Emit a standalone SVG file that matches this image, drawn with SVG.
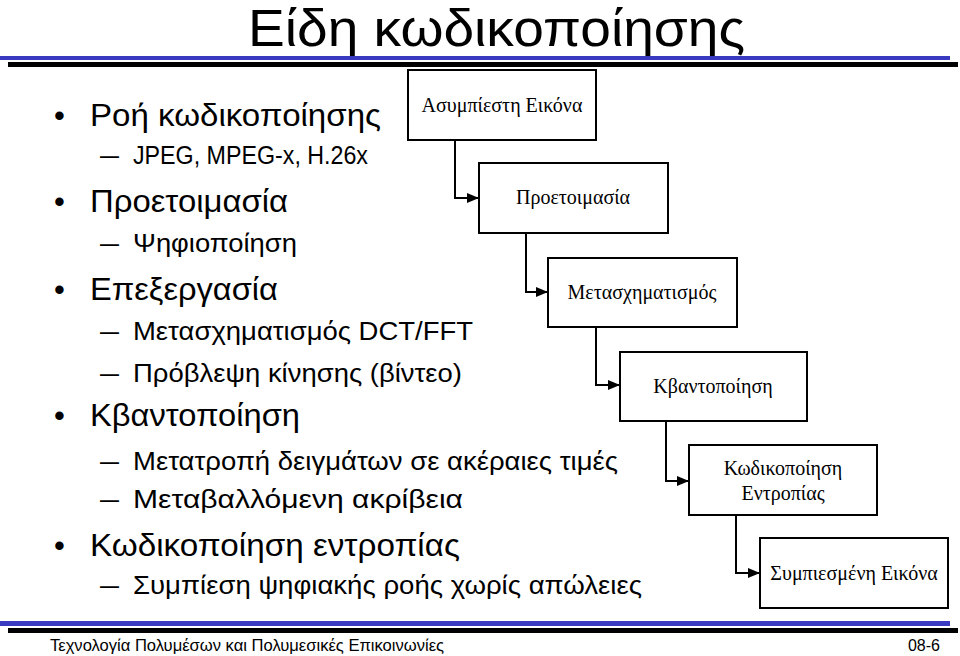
<svg xmlns="http://www.w3.org/2000/svg" width="960" height="656" viewBox="0 0 960 656">
<defs>
<style>
.sans{font-family:"Liberation Sans",Arial,sans-serif;fill:#000}
.l1{font-size:31px}
.l2{font-size:25px}
.box{fill:#fff;stroke:#000;stroke-width:2}
.bt{font-family:"Liberation Serif","Times New Roman",serif;font-size:20px;fill:#000;text-anchor:middle}
.conn{fill:none;stroke:#000;stroke-width:2}
</style>
<marker id="arr" viewBox="0 0 12 10" refX="12" refY="5" markerWidth="12" markerHeight="10" markerUnits="userSpaceOnUse" orient="auto">
<path d="M0,0 L12,5 L0,10 Z" fill="#000"/>
</marker>
</defs>
<rect width="960" height="656" fill="#fff"/>
<g id="header">
<text class="sans" x="248" y="46" font-size="52" textLength="497" lengthAdjust="spacingAndGlyphs">Είδη κωδικοποίησης</text>
<rect x="0" y="56" width="950" height="4" fill="#3a3ac0"/>
<rect x="8" y="62" width="950" height="5" fill="#000"/>
</g>
<g id="bullets" class="sans">
<text class="l1" x="54" y="126">•</text><text class="l1" x="90" y="126" textLength="291" lengthAdjust="spacingAndGlyphs">Ροή κωδικοποίησης</text>
<text class="l2" x="100" y="164" textLength="19" lengthAdjust="spacingAndGlyphs">–</text><text class="l2" x="133" y="164" textLength="235" lengthAdjust="spacingAndGlyphs">JPEG, MPEG-x, H.26x</text>
<text class="l1" x="54" y="212">•</text><text class="l1" x="90" y="212" textLength="198" lengthAdjust="spacingAndGlyphs">Προετοιμασία</text>
<text class="l2" x="100" y="252" textLength="19" lengthAdjust="spacingAndGlyphs">–</text><text class="l2" x="133" y="252" textLength="164" lengthAdjust="spacingAndGlyphs">Ψηφιοποίηση</text>
<text class="l1" x="54" y="300">•</text><text class="l1" x="90" y="300" textLength="188" lengthAdjust="spacingAndGlyphs">Επεξεργασία</text>
<text class="l2" x="100" y="340" textLength="19" lengthAdjust="spacingAndGlyphs">–</text><text class="l2" x="133" y="340" textLength="340" lengthAdjust="spacingAndGlyphs">Μετασχηματισμός DCT/FFT</text>
<text class="l2" x="100" y="382" textLength="19" lengthAdjust="spacingAndGlyphs">–</text><text class="l2" x="133" y="382" textLength="329" lengthAdjust="spacingAndGlyphs">Πρόβλεψη κίνησης (βίντεο)</text>
<text class="l1" x="54" y="426">•</text><text class="l1" x="90" y="426" textLength="210" lengthAdjust="spacingAndGlyphs">Κβαντοποίηση</text>
<text class="l2" x="100" y="470" textLength="19" lengthAdjust="spacingAndGlyphs">–</text><text class="l2" x="133" y="470" textLength="485" lengthAdjust="spacingAndGlyphs">Μετατροπή δειγμάτων σε ακέραιες τιμές</text>
<text class="l2" x="100" y="508" textLength="19" lengthAdjust="spacingAndGlyphs">–</text><text class="l2" x="133" y="508" textLength="330" lengthAdjust="spacingAndGlyphs">Μεταβαλλόμενη ακρίβεια</text>
<text class="l1" x="54" y="556">•</text><text class="l1" x="90" y="556" textLength="370" lengthAdjust="spacingAndGlyphs">Κωδικοποίηση εντροπίας</text>
<text class="l2" x="100" y="594" textLength="19" lengthAdjust="spacingAndGlyphs">–</text><text class="l2" x="133" y="594" textLength="509" lengthAdjust="spacingAndGlyphs">Συμπίεση ψηφιακής ροής χωρίς απώλειες</text>
</g>
<g id="connectors">
<path class="conn" d="M455,140 V198 H479" marker-end="url(#arr)"/>
<path class="conn" d="M526,233 V292 H548" marker-end="url(#arr)"/>
<path class="conn" d="M596,327 V385 H620" marker-end="url(#arr)"/>
<path class="conn" d="M666,421 V481 H689" marker-end="url(#arr)"/>
<path class="conn" d="M736,515 V573 H760" marker-end="url(#arr)"/>
</g>
<g id="n1"><rect class="box" x="408" y="70" width="188" height="70"/><text class="bt" x="502" y="112">Ασυμπίεστη Εικόνα</text></g>
<g id="n2"><rect class="box" x="479" y="163" width="189" height="70"/><text class="bt" x="573" y="204">Προετοιμασία</text></g>
<g id="n3"><rect class="box" x="548" y="258" width="189" height="69"/><text class="bt" x="642" y="299">Μετασχηματισμός</text></g>
<g id="n4"><rect class="box" x="620" y="352" width="187" height="69"/><text class="bt" x="713" y="393">Κβαντοποίηση</text></g>
<g id="n5"><rect class="box" x="689" y="445" width="188" height="70"/><text class="bt" x="783" y="475">Κωδικοποίηση</text><text class="bt" x="783" y="500">Εντροπίας</text></g>
<g id="n6"><rect class="box" x="760" y="538" width="188" height="70"/><text class="bt" x="854" y="580">Συμπιεσμένη Εικόνα</text></g>
<g id="footer">
<rect x="0" y="621" width="950" height="5" fill="#3a3ac0"/>
<rect x="8" y="628" width="950" height="5" fill="#000"/>
<text class="sans" x="50" y="651" font-size="16" textLength="394" lengthAdjust="spacingAndGlyphs">Τεχνολογία Πολυμέσων και Πολυμεσικές Επικοινωνίες</text>
<text class="sans" x="940" y="651" font-size="16" text-anchor="end">08-6</text>
</g>
</svg>
